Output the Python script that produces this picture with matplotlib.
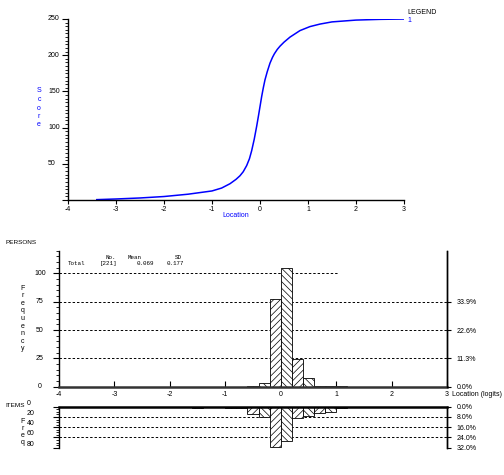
import numpy as np
import matplotlib
matplotlib.use("Agg")
import matplotlib.pyplot as plt
from matplotlib.transforms import blended_transform_factory

plt.rcParams['font.family'] = ['Liberation Sans', 'DejaVu Sans']
plt.rcParams['axes.unicode_minus'] = False
plt.rcParams['hatch.linewidth'] = 0.5

# ── test characteristic curve ────────────────────────────────────────────────
loc_curve = [-3.4, -3.0, -2.5, -2.0, -1.5, -1.0, -0.8, -0.625, -0.5, -0.417,
             -0.35, -0.278, -0.22, -0.174, -0.12, -0.069, -0.03, 0.0, 0.035,
             0.069, 0.104, 0.15, 0.208, 0.26, 0.3, 0.36, 0.417, 0.5, 0.625,
             0.833, 1.04, 1.25, 1.5, 2.0, 2.5, 3.0]
score_curve = [0.5, 1.4, 2.8, 4.8, 8.0, 12.5, 16.5, 22.5, 28.5, 33.5,
               39, 47.5, 57, 68, 84, 102, 117, 129, 143,
               155, 166, 177, 189, 197, 202, 208, 212.5, 218, 225,
               234, 239.5, 243, 246, 248.5, 249.5, 250]

# ── person distribution ──────────────────────────────────────────────────────
person_bins = [-0.6, -0.4, -0.2, 0.0, 0.2, 0.4, 0.6, 0.8, 1.0]
person_counts = [1, 3, 77, 105, 24, 8, 1, 1, 1]
person_total = 221
person_mean = 0.069
person_sd = 0.177

# ── item distribution ────────────────────────────────────────────────────────
item_bins = [-2.8, -2.6, -2.2, -2.0, -1.8, -1.6, -1.4, -1.2, -1.0, -0.8,
             -0.6, -0.4, -0.2, 0.0, 0.2, 0.4, 0.6, 0.8, 1.0, 1.2]
item_counts = [1, 1, 1, 1, 1, 2, 1, 1, 2, 2,
               14, 21, 78, 66, 23, 18, 13, 10, 3, 1]
item_total = 250

BIN_W = 0.2
W, H = 504, 475
FS = 5
BLUE = '#0000ff'

fig = plt.figure(figsize=(W / 100, H / 100), dpi=100)


def px_axes(x0, y0, x1, y1):
    return fig.add_axes([x0 / W, 1 - y1 / H, (x1 - x0) / W, (y1 - y0) / H])


def ftext(x, y, s, **kw):
    fig.text(x / W, 1 - y / H, s, **kw)


def stacked(x, y, word, spacing, **kw):
    ftext(x, y, "\n".join(word), ha='center', va='center',
          linespacing=spacing, fontsize=FS, **kw)


# ══════════════════════════════════════════════════════════════════════════════
# Top: score curve
# ══════════════════════════════════════════════════════════════════════════════
ax1 = px_axes(68, 19, 404, 200)
ax1.plot(loc_curve, score_curve, color=BLUE, lw=1.1)
ax1.set_xlim(-4, 3)
ax1.set_ylim(0, 250)
for s in ('top', 'right'):
    ax1.spines[s].set_visible(False)
for s in ('left', 'bottom'):
    ax1.spines[s].set_linewidth(1.0)
ax1.set_xticks(range(-4, 4))
ax1.tick_params(axis='x', direction='out', length=3, width=0.8,
                labelsize=FS, pad=1)
ax1.set_yticks(np.arange(0, 251, 50))
ax1.set_yticklabels([])
ax1.set_yticks(np.arange(0, 251, 5), minor=True)
ax1.tick_params(axis='y', which='major', length=4.5, width=0.8)
ax1.tick_params(axis='y', which='minor', length=2, width=0.6)
tr1 = blended_transform_factory(fig.transFigure, ax1.transData)
for v in range(50, 251, 50):
    ax1.text(48 / W, v, str(v), transform=tr1, ha='left', va='center',
             fontsize=FS)

stacked(39, 108, "Score", 1.3, color=BLUE)
ftext(236, 215, "Location", ha='center', va='center', fontsize=FS, color=BLUE)
ftext(407, 12.5, "LEGEND", ha='left', va='center', fontsize=FS)
ftext(407.5, 20, "1", ha='left', va='center', fontsize=FS, color=BLUE)


def hist(ax, lefts, counts):
    bars = ax.bar(lefts, counts, width=BIN_W, align='edge', facecolor='white',
                  edgecolor='black', linewidth=0.6, zorder=3)
    for i, b in enumerate(bars):
        b.set_hatch('/////' if i % 2 == 0 else '\\\\\\\\\\')
    return bars


dash = dict(color='black', lw=0.7, linestyles=(0, (2.5, 2)), zorder=1)

# ══════════════════════════════════════════════════════════════════════════════
# Middle: persons
# ══════════════════════════════════════════════════════════════════════════════
ax2 = px_axes(59, 250.7, 447, 386.7)
ax2.set_xlim(-4, 3)
ax2.set_ylim(0, 120)
ax2.hlines([25, 50, 75], -4, 3, **dash)
ax2.hlines(100, -4, 1.03, **dash)
hist(ax2, person_bins, person_counts)
ax2.spines['top'].set_visible(False)
ax2.spines['left'].set_linewidth(1.0)
ax2.spines['right'].set_linewidth(1.0)
ax2.spines['bottom'].set_linewidth(1.8)
ax2.spines['bottom'].set_color('#333333')
ax2.spines['bottom'].set_zorder(4)
ax2.set_xticks(range(-4, 4))
ax2.tick_params(axis='x', direction='in', length=4, width=0.8,
                labelsize=FS, pad=3)
ax2.set_yticks(np.arange(0, 101, 25))
ax2.set_yticklabels([])
ax2.set_yticks(np.arange(0, 121, 5), minor=True)
ax2.tick_params(axis='y', which='major', length=4.5, width=0.8)
ax2.tick_params(axis='y', which='minor', length=2, width=0.6)
tr2 = blended_transform_factory(fig.transFigure, ax2.transData)
for v in range(0, 101, 25):
    ax2.text(40 / W, v, str(v), transform=tr2, ha='center', va='center',
             fontsize=FS)

ax2r = ax2.twinx()
ax2r.set_ylim(0, 120)
for s in ('top', 'left', 'bottom'):
    ax2r.spines[s].set_visible(False)
ax2r.spines['right'].set_linewidth(1.0)
pticks = [0, 25, 50, 75]
ax2r.set_yticks(pticks)
ax2r.set_yticklabels([f"{v / person_total * 100:.1f}%" for v in pticks])
ax2r.tick_params(axis='y', length=3, width=0.8, labelsize=FS, pad=4)

ftext(5, 243, "PERSONS", ha='left', va='center', fontsize=4.6)
stacked(22.7, 318.5, "Frequency", 1.12)
ftext(452, 394.5, "Location (logits)", ha='left', va='center', fontsize=FS)

mono = dict(family=['Liberation Mono', 'DejaVu Sans Mono'], fontsize=4.2,
            va='center', ha='left')
ftext(105, 257.7, "No.", **mono)
ftext(128, 257.7, "Mean", **mono)
ftext(175, 257.7, "SD", **mono)
ftext(68, 263.7, "Total", **mono)
ftext(100, 263.7, f"[{person_total}]", **mono)
ftext(137, 263.7, f"{person_mean:.3f}", **mono)
ftext(167, 263.7, f"{person_sd:.3f}", **mono)

# ══════════════════════════════════════════════════════════════════════════════
# Bottom: items (hanging histogram)
# ══════════════════════════════════════════════════════════════════════════════
ax3 = px_axes(59, 406.7, 447, 447.7)
ax3.set_xlim(-4, 3)
ax3.set_ylim(80, 0)
ax3.hlines([20, 40, 60, 80], -4, 3, **dash)
hist(ax3, item_bins, item_counts)
ax3.spines['bottom'].set_visible(False)
ax3.spines['left'].set_linewidth(1.0)
ax3.spines['right'].set_linewidth(1.0)
ax3.spines['top'].set_linewidth(1.8)
ax3.spines['top'].set_zorder(4)
ax3.set_xticks([])
ax3.set_yticks(np.arange(0, 81, 20))
ax3.set_yticklabels([])
ax3.set_yticks(np.arange(0, 81, 5), minor=True)
ax3.tick_params(axis='y', which='major', length=4, width=0.8)
ax3.tick_params(axis='y', which='minor', length=2.5, width=0.6)
tr3 = blended_transform_factory(fig.transFigure, ax3.transData)
for v in range(0, 81, 20):
    ax3.text(27 / W, v, str(v), transform=tr3, ha='left', va='bottom',
             fontsize=FS)

ax3r = ax3.twinx()
ax3r.set_ylim(80, 0)
for s in ('top', 'left', 'bottom'):
    ax3r.spines[s].set_visible(False)
ax3r.spines['right'].set_linewidth(1.0)
iticks = [0, 20, 40, 60, 80]
ax3r.set_yticks(iticks)
ax3r.set_yticklabels([f"{v / item_total * 100:.1f}%" for v in iticks])
ax3r.tick_params(axis='y', length=3, width=0.8, labelsize=FS, pad=4)

ftext(5, 405.7, "ITEMS", ha='left', va='center', fontsize=4.6)
stacked(22.7, 432, "Freq", 1.0)

fig.savefig("out.png", dpi=100)
